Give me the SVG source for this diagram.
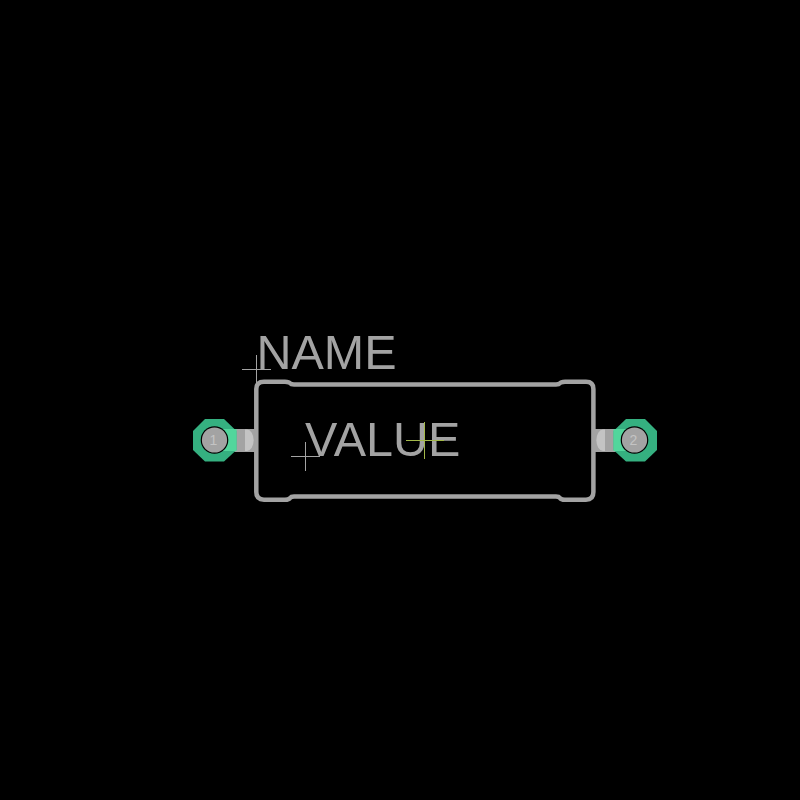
<svg xmlns="http://www.w3.org/2000/svg" width="800" height="800" viewBox="0 0 800 800">
<style>
.t{font-family:"Liberation Sans",Arial,sans-serif;font-size:48.500px;fill:#a3a3a3}
.n{font-family:"Liberation Sans",Arial,sans-serif;font-size:14px;fill:#c4c4c4;text-anchor:middle}
.o{fill:none;stroke:#a3a3a3;stroke-width:4.500;stroke-linejoin:round}
.x{fill:none;stroke:#a3a3a3;stroke-width:1}
.pin{fill:#a3a3a3}
.d{fill:#c4c4c4}
.ring{fill:#35b080}
.ov{fill:#52d69c}
.hole{fill:#000}
.core{fill:#a3a3a3}
</style>
<rect width="800" height="800" fill="#000"/>
<g id="pin1">
<rect class="pin" x="222" y="429" width="33" height="23"/>
<path class="d" d="M245 429.500h2a6.500 10.500 0 0 1 0 21.500h-2z"/>
</g>
<g id="pin2">
<rect class="pin" x="595" y="429" width="33" height="23"/>
<path class="d" d="M605 429.500h-2a6.500 10.500 0 0 0 0 21.500h2z"/>
</g>
<g id="body">
<path class="o" d="M256.300 389Q256.300 381.700 264 381.700H285Q289 381.700 290 383.200Q291 384.500 294 384.500H556Q559 384.500 560 383.200Q561 381.700 565 381.700H586Q593.400 381.700 593.400 389V492Q593.400 499.700 586 499.700H565Q561 499.700 560 498Q559 496.600 556 496.600H294Q291 496.600 290 498Q289 499.700 285 499.700H264Q256.300 499.700 256.300 492Z"/>
</g>
<g id="pad1">
<path class="ring" d="M205 419H224L236.500 431V450L224 461.500H205L193 450V431Z"/>
<path class="ov" d="M222 429H236.500V451H222Z"/>
<circle class="hole" cx="214.500" cy="440" r="13.800"/>
<circle class="core" cx="214.500" cy="440" r="12.600"/>
<text class="n" x="213.500" y="445">1</text>
</g>
<g id="pad2">
<path class="ring" d="M626 419H645L657 431V450L645 461.500H626L613.500 450V431Z"/>
<path class="ov" d="M613.500 429H628V451H613.500Z"/>
<circle class="hole" cx="634.500" cy="440" r="13.800"/>
<circle class="core" cx="634.500" cy="440" r="12.600"/>
<text class="n" x="633.500" y="445">2</text>
</g>
<g id="labels">
<text class="t" x="256.500" y="369">NAME</text>
<text class="t" x="305" y="456">VALUE</text>
</g>
<g id="marks">
<path class="x" d="M242 369.500H271M256.500 355V384M291 456.500H320M305.500 442V471"/>
<path d="M406 440.500H444M424.500 422V459" fill="none" stroke="#a3b84a" stroke-width="1"/>
</g>
</svg>
